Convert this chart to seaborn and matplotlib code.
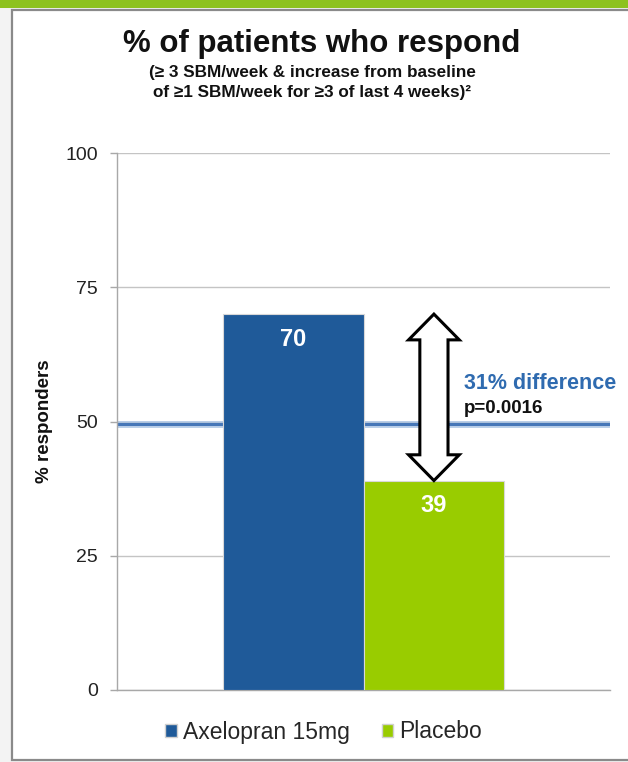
import matplotlib
matplotlib.use("Agg")
import matplotlib.pyplot as plt
import matplotlib.patches as mpatches
import seaborn as sns
import pandas as pd

# Responder rates by treatment arm
groups = ["Axelopran 15mg", "Placebo"]
responders = [70, 39]
bar_colors = ["#1f5a99", "#99cc00"]
yticks = [0, 25, 50, 75, 100]
reference_level = 49.5
diff_label = "31% difference"
p_label = "p=0.0016"

sns.set_theme(style="white")
plt.rcParams["font.family"] = ["Liberation Sans", "DejaVu Sans"]

fig = plt.figure(figsize=(6.28, 7.62), dpi=100)
fig.patch.set_facecolor("#f3f3f3")

# slide frame: green band on top, white panel with grey outline
fig.add_artist(mpatches.Rectangle((0, 1 - 8 / 762), 1, 8 / 762, transform=fig.transFigure,
                                  facecolor="#8dc21f", edgecolor="none", zorder=0))
fig.add_artist(mpatches.Rectangle((12 / 628, 2 / 762), 1.0, 1 - 12 / 762, transform=fig.transFigure,
                                  facecolor="white", edgecolor="#8a8a8a", linewidth=1.6, zorder=0))

ax = fig.add_axes([117 / 628, 1 - 690 / 762, 493 / 628, 537 / 762])
ax.set_facecolor("none")

df = pd.DataFrame({"group": groups, "pct": responders})
sns.barplot(data=df, x="group", y="pct", hue="group", palette=bar_colors, saturation=1,
            width=1.0, dodge=False, legend=False, ax=ax, zorder=3,
            edgecolor="#d8d8d8", linewidth=0.8)

ax.set_xlim(-1.25, 2.25)
ax.set_ylim(0, 100)
ax.set_yticks(yticks)
ax.set_yticklabels([str(t) for t in yticks], fontsize=14, color="#222222")
ax.set_xticks([])
ax.set_xlabel("")
ax.set_ylabel("% responders", fontsize=13.5, fontweight="bold", labelpad=9, color="#111111")

# grid and spines
ax.yaxis.grid(True, color="#c4c4c4", linewidth=1.0, zorder=0)
for s in ["top", "right"]:
    ax.spines[s].set_visible(False)
for s in ["left", "bottom"]:
    ax.spines[s].set_color("#a8a8a8")
    ax.spines[s].set_linewidth(1.0)
ax.tick_params(axis="y", which="major", left=True, length=5, width=1, color="#a8a8a8", pad=8.5)

# reference line
ax.axhline(reference_level, color="#aac4e4", linewidth=5, zorder=1.5, alpha=0.8)
ax.axhline(reference_level, color="#4677b8", linewidth=2.2, zorder=1.6)

# value labels inside bars
for i, v in enumerate(responders):
    ax.text(i, v - 4.7, f"{v}", ha="center", va="center", color="white",
            fontsize=17, fontweight="bold", zorder=5)

# hollow double-headed arrow spanning the difference between arms
top, bot = responders[0], responders[1]
xc = 1.0
head_len = 4.8
shaft_hw = 0.10
head_hw = 0.18
pts = [
    (xc, top),
    (xc + head_hw, top - head_len),
    (xc + shaft_hw, top - head_len),
    (xc + shaft_hw, bot + head_len),
    (xc + head_hw, bot + head_len),
    (xc, bot),
    (xc - head_hw, bot + head_len),
    (xc - shaft_hw, bot + head_len),
    (xc - shaft_hw, top - head_len),
    (xc - head_hw, top - head_len),
]
ax.add_patch(mpatches.Polygon(pts, closed=True, facecolor="white", edgecolor="black",
                              linewidth=2.2, joinstyle="miter", zorder=6, clip_on=False))

ax.text(1.21, 57.0, diff_label, ha="left", va="center", color="#2f6bb0",
        fontsize=15.5, fontweight="bold", zorder=6)
ax.text(1.21, 52.4, p_label, ha="left", va="center", color="#111111",
        fontsize=13.5, fontweight="bold", zorder=6)

# titles
fig.text(0.513, 1 - 44 / 762, "% of patients who respond", ha="center", va="center",
         fontsize=22.5, fontweight="bold", color="#111111")
fig.text(0.497, 1 - 73 / 762, "(≥ 3 SBM/week & increase from baseline", ha="center", va="center",
         fontsize=12.3, fontweight="bold", color="#111111")
fig.text(0.497, 1 - 92 / 762, "of ≥1 SBM/week for ≥3 of last 4 weeks)²", ha="center", va="center",
         fontsize=12.3, fontweight="bold", color="#111111")

# legend
handles = [mpatches.Patch(facecolor=c, edgecolor="#d0d0d0", label=g)
           for g, c in zip(groups, bar_colors)]
fig.legend(handles=handles, loc="center", bbox_to_anchor=(0.515, 1 - 732 / 762), ncol=2,
           frameon=False, fontsize=16.5, handlelength=0.5, handleheight=0.5,
           handletextpad=0.25, columnspacing=1.4)

fig.savefig("out.png", dpi=100, facecolor=fig.get_facecolor())
